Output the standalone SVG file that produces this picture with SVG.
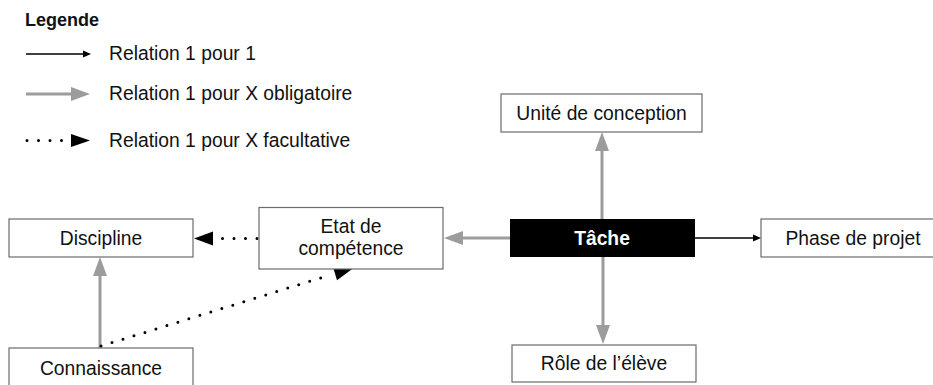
<svg xmlns="http://www.w3.org/2000/svg" width="933" height="385" viewBox="0 0 933 385">
<style>
.box{fill:#fff;stroke:#6b6b6b;stroke-width:1.2}
.lbl{font-family:"Liberation Sans",Arial,sans-serif;font-size:19.3px;fill:#111;text-anchor:middle}
.leg{font-family:"Liberation Sans",Arial,sans-serif;font-size:19.3px;fill:#111}
.gray{stroke:#9c9c9c;stroke-width:3;fill:none}
.thin{stroke:#000;stroke-width:1.3;fill:none}
.dot{stroke:#000;stroke-width:3;fill:none;stroke-linecap:round;stroke-dasharray:0 11.5}
</style>
<defs>
<marker id="ag" markerUnits="userSpaceOnUse" markerWidth="19" markerHeight="14" refX="0" refY="7" orient="auto" overflow="visible"><path d="M0,0 L19,7 L0,14 z" fill="#9c9c9c"/></marker>
<marker id="ab" markerUnits="userSpaceOnUse" markerWidth="19" markerHeight="14" refX="0" refY="7" orient="auto" overflow="visible"><path d="M0,0 L19,7 L0,14 z" fill="#000"/></marker>
<marker id="at" markerUnits="userSpaceOnUse" markerWidth="8" markerHeight="7" refX="0" refY="3.5" orient="auto" overflow="visible"><path d="M0,0 L8,3.5 L0,7 z" fill="#000"/></marker>
</defs>
<g id="legend">
<text x="25" y="26" font-family="Liberation Sans,Arial,sans-serif" font-size="18" font-weight="bold" fill="#111">Legende</text>
<line class="thin" x1="26" y1="54" x2="83" y2="54" marker-end="url(#at)"/>
<text class="leg" x="109" y="60">Relation 1 pour 1</text>
<line class="gray" x1="26" y1="94" x2="71" y2="94" marker-end="url(#ag)"/>
<text class="leg" x="109" y="100">Relation 1 pour X obligatoire</text>
<line class="dot" x1="27" y1="140.5" x2="65" y2="140.5"/>
<path d="M71,134 L90,140.5 L71,147 z" fill="#000"/>
<text class="leg" x="109" y="147">Relation 1 pour X facultative</text>
</g>
<g id="connectors">
<line class="gray" x1="510" y1="238" x2="463" y2="238" marker-end="url(#ag)"/>
<line class="gray" x1="602" y1="219" x2="602" y2="151" marker-end="url(#ag)"/>
<line class="gray" x1="603" y1="257" x2="603" y2="325" marker-end="url(#ag)"/>
<line class="thin" x1="695" y1="238" x2="753" y2="238" marker-end="url(#at)"/>
<line class="dot" x1="257" y1="238.5" x2="220" y2="238.5"/>
<line x1="214" y1="238.5" x2="213" y2="238.5" stroke="none" marker-end="url(#ab)"/>
<line class="gray" x1="100" y1="348" x2="100" y2="276" marker-end="url(#ag)"/>
<line class="dot" x1="101" y1="346" x2="330" y2="275"/>
<line x1="333" y1="274.2" x2="335" y2="273.6" stroke="none" marker-end="url(#ab)"/>
</g>
<g id="discipline"><rect class="box" x="9" y="219" width="184" height="38"/><text class="lbl" x="101" y="244.5">Discipline</text></g>
<g id="etat"><rect class="box" x="259" y="207.5" width="184" height="61.5"/><text class="lbl" x="351" y="233">Etat de</text><text class="lbl" x="351" y="255">compétence</text></g>
<g id="connaissance"><rect class="box" x="9" y="348" width="184" height="45"/><text class="lbl" x="101" y="375">Connaissance</text></g>
<g id="tache"><rect x="510" y="219" width="185" height="38" fill="#000"/><text class="lbl" x="602" y="244.5" font-weight="bold" style="fill:#fff">Tâche</text></g>
<g id="unite"><rect class="box" x="501" y="94" width="201" height="38"/><text class="lbl" x="601.5" y="119.5">Unité de conception</text></g>
<g id="phase"><rect class="box" x="761" y="219" width="180" height="38"/><text class="lbl" x="853" y="245">Phase de projet</text></g>
<g id="role"><rect class="box" x="512" y="345" width="184" height="37"/><text class="lbl" x="604" y="370">Rôle de l’élève</text></g>
</svg>
